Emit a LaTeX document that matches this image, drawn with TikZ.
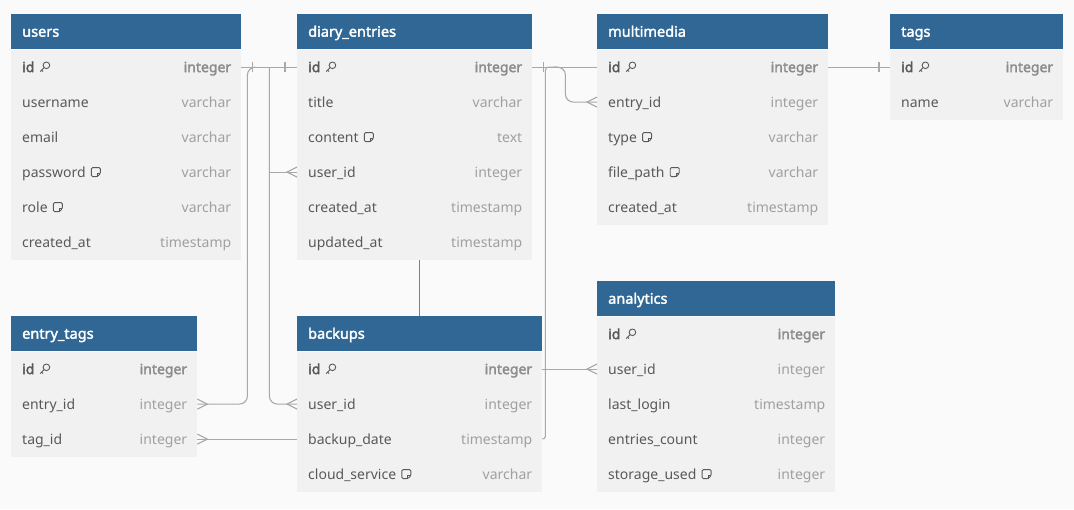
\documentclass[tikz,border=0pt]{standalone}
\usepackage{fontspec}
\setmainfont{Noto Sans}[AutoFakeBold=2.2]
\usetikzlibrary{positioning}
\usetikzlibrary{calc}
\definecolor{HEAD}{HTML}{306795}
\definecolor{ROW}{HTML}{F1F1F1}
\definecolor{PAGE}{HTML}{FAFAFA}
\definecolor{FNAME}{HTML}{595959}
\definecolor{FTYPE}{HTML}{A0A0A0}
\definecolor{KTYPE}{HTML}{8C8C8C}
\definecolor{LINK}{HTML}{A8A8A8}
\tikzset{
	every node/.style = {font=\fontsize{14}{17}\selectfont},
	hdr/.style = {fill=HEAD, minimum height=35pt, inner sep=0pt},
	htitle/.style = {text=white, inner sep=0pt, font=\fontsize{14.5}{17}\selectfont\bfseries},
	rowbox/.style = {fill=ROW, minimum height=35pt, inner sep=0pt},
	fname/.style = {text=FNAME, inner sep=0pt},
	ftype/.style = {text=FTYPE, inner sep=0pt},
	% k = key, n = note, x = plain
	fld k/.style = {font=\fontsize{14}{17}\selectfont\bfseries},
	fld n/.style = {}, fld x/.style = {},
	typ k/.style = {font=\fontsize{14}{17}\selectfont\bfseries, text=KTYPE},
	typ n/.style = {}, typ x/.style = {},
	icon k/.pic = {\draw[line width=0.9pt, FNAME] (1.8,-1.8) circle (3.3) (-0.6,0.6) -- (-4.5,4.5) (-3,3) -- (-1.6,4.4);},
	icon n/.pic = {\draw[line width=0.9pt, FNAME, rounded corners=1.2] (-4.5,-4.5) -- (4.5,-4.5) -- (4.5,1.5) -- (1.5,4.5) -- (-4.5,4.5) -- cycle;
		\draw[line width=0.9pt, FNAME] (4.5,1.5) -- (1.5,1.5) -- (1.5,4.5);},
	icon x/.pic = {},
	link/.style = {draw=LINK, line width=1.1pt},
	tick/.pic = {\draw[link] (0,-5) -- (0,5);},
	crow/.pic = {\draw[link] (0,-5) -- (-10,0) -- (0,5);}
}
% name, title, x, y, width, rows
\newcommand{\dbtable}[6]{%
	\node[hdr, minimum width=#5pt, anchor=north west] (#1) at (#3,#4) {};
	\node[htitle, anchor=base west] at ($(#1.west)+(11,5)$) {#2};
	\foreach \f/\ty/\m [count=\i] in {#6} {
		\node[rowbox, minimum width=#5pt, anchor=north west] (#1-\i) at ($(#1.south west)+(0,{(\i-1)*35})$) {};
		\node[fname, fld \m, anchor=base west] (#1-\i-n) at ($(#1-\i.west)+(11,5)$) {\f};
		\node[ftype, typ \m, anchor=base east] at ($(#1-\i.east)+(-10,5)$) {\ty};
		\pic at ($(#1-\i-n.base east)+(10,-5)$) {icon \m};
	}
}

\begin{document}
\begin{tikzpicture}[x=1pt, y=-1pt]
	\fill[PAGE] (0,0) rectangle (1074,509);
	\useasboundingbox (0,0) rectangle (1074,509);

	% tables
	\dbtable{users}{users}{11}{14}{230}{id/integer/k, username/varchar/x, email/varchar/x, password/varchar/n, role/varchar/n, created\_at/timestamp/x}
	\dbtable{diary}{diary\_entries}{297}{14}{235}{id/integer/k, title/varchar/x, content/text/n, user\_id/integer/x, created\_at/timestamp/x, updated\_at/timestamp/x}
	\dbtable{media}{multimedia}{597}{14}{231}{id/integer/k, entry\_id/integer/x, type/varchar/n, file\_path/varchar/n, created\_at/timestamp/x}
	\dbtable{tags}{tags}{890}{14}{173}{id/integer/k, name/varchar/x}
	\dbtable{entry}{entry\_tags}{11}{316}{186}{id/integer/k, entry\_id/integer/x, tag\_id/integer/x}
	\dbtable{backups}{backups}{297}{316}{245}{id/integer/k, user\_id/integer/x, backup\_date/timestamp/x, cloud\_service/varchar/n}
	\dbtable{analytics}{analytics}{597}{281}{238}{id/integer/k, user\_id/integer/x, last\_login/timestamp/x, entries\_count/integer/x, storage\_used/integer/n}

	% users -- diary_entries
	\coordinate (trunk) at ($(users-1.east)+(28,0)$);
	\draw[link] (users-1.east) -- (diary-1.west);
	\pic at ($(users-1.east)+(11,0)$) {tick};
	\pic at ($(diary-1.west)+(-12,0)$) {tick};
	\draw[link, rounded corners=8] ($(diary-1.west)+(-42,0)$) -- ($(users-1.east)+(6,0)$) |- (entry-2.east);
	\draw[link, rounded corners=8] (trunk) |- (backups-2.west);
	\draw[link] (trunk |- diary-4.west) -- (diary-4.west);
	\pic at (diary-4.west) {crow};
	\pic at (backups-2.west) {crow};
	\pic[rotate=180] at (entry-2.east) {crow};

	% diary_entries -- multimedia
	\coordinate (drop) at ($(diary-1.east)+(13,0)$);
	\draw[link] (diary-1.east) -- (media-1.west);
	\pic at ($(diary-1.east)+(11,0)$) {tick};
	\draw[link, rounded corners=8] ($(diary-1.east)+(21,0)$) -- ($(diary-1.east)+(33,0)$) |- (media-2.west);
	\pic at (media-2.west) {crow};
	\draw[link, rounded corners=3] ($(drop)+(12,0)$) -- (drop) |- (backups-3.east);

	% multimedia -- tags
	\draw[link] (media-1.east) -- (tags-1.west);
	\pic at ($(tags-1.west)+(-11,0)$) {tick};

	% backups -- analytics, entry_tags
	\draw[link] (backups-1.east) -- (analytics-2.west);
	\pic at (analytics-2.west) {crow};
	\draw[link] (entry-3.east) -- (backups-3.west);
	\pic[rotate=180] at (entry-3.east) {crow};

	% diary_entries -- backups
	\draw[draw=gray, line width=0.7pt] (backups.north |- diary-6.south) -- (backups.north);
\end{tikzpicture}
\end{document}
